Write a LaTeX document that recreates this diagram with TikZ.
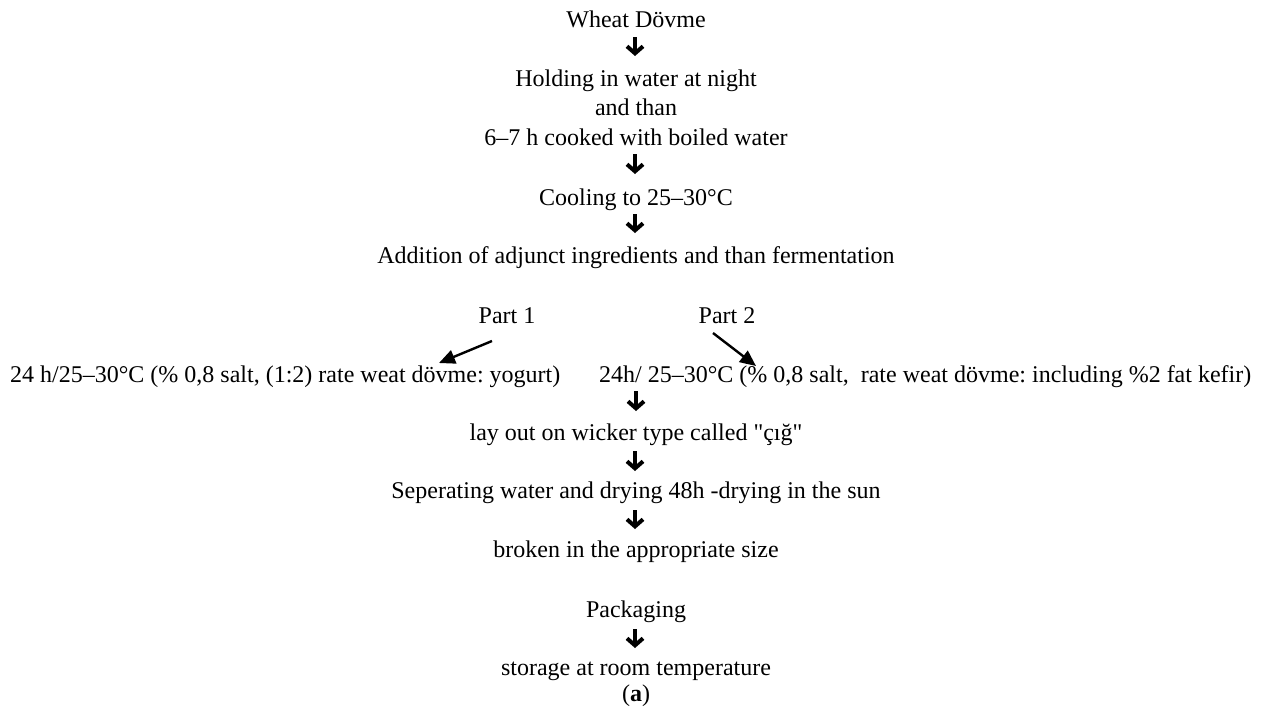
\documentclass[tikz,border=0pt]{standalone}
\usepackage{fontspec}
\setmainfont{Liberation Serif}
\usetikzlibrary{arrows.meta}
\frenchspacing
\begin{document}
\begin{tikzpicture}[x=1pt,y=-1pt,
  txt/.style={inner sep=0pt,anchor=base,font=\fontsize{24}{29.5}\selectfont\frenchspacing},
  txtw/.style={txt,anchor=base west},
  downarr/.style={line width=3.6pt,-{Straight Barb[length=7pt,width=16pt,line width=4pt]}},
  partarr/.style={line width=2.4pt,-{Triangle[length=16pt,width=14pt]}}]
\useasboundingbox (0,0) rectangle (1267,716);
\node[txt] (n1) at (636,27) {Wheat Dövme};
\node[txt] (n2a) at (636,86) {Holding in water at night};
\node[txt] (n2b) at (636,115) {and than};
\node[txt] (n2c) at (636,145) {6–7 h cooked with boiled water};
\node[txt] (n3) at (636,205) {Cooling to 25–30°C};
\node[txt] (n4) at (636,263) {Addition of adjunct ingredients and than fermentation};
\node[txt] (p1) at (507,323) {Part 1};
\node[txt] (p2) at (727,323) {Part 2};
\node[txtw] (r1) at (10,382) {24 h/25–30°C (\% 0,8 salt, (1:2) rate weat dövme: yogurt)};
\node[txtw] (r2) at (599,382) {24h/ 25–30°C (\% 0,8 salt,\ \ rate weat dövme: including \%2 fat kefir)};
\node[txt] (n5) at (636,440) {lay out on wicker type called \textquotedbl çığ\textquotedbl};
\node[txt] (n6) at (636,498) {Seperating water and drying 48h -drying in the sun};
\node[txt] (n7) at (636,557) {broken in the appropriate size};
\node[txt] (n8) at (636,617) {Packaging};
\node[txt] (n9) at (636,675) {storage at room temperature};
\node[txt] (lab) at (636,701) {(\textbf{a})};
% down arrows
\coordinate (a1t) at (635,37);  \coordinate (a1b) at (635,56);
\coordinate (a2t) at (635,154); \coordinate (a2b) at (635,174);
\coordinate (a3t) at (635,214); \coordinate (a3b) at (635,233);
\coordinate (a4t) at (636,391); \coordinate (a4b) at (636,411);
\coordinate (a5t) at (635,451); \coordinate (a5b) at (635,471);
\coordinate (a6t) at (635,510); \coordinate (a6b) at (635,529);
\coordinate (a7t) at (635,629); \coordinate (a7b) at (635,648);
\foreach \i in {1,...,7} {\draw[downarr] (a\i t) -- (a\i b);}
% part arrows
\coordinate (q1s) at (492,341); \coordinate (q1e) at (439,363);
\coordinate (q2s) at (713,333); \coordinate (q2e) at (756,366);
\draw[partarr] (q1s) -- (q1e);
\draw[partarr] (q2s) -- (q2e);
\end{tikzpicture}
\end{document}
